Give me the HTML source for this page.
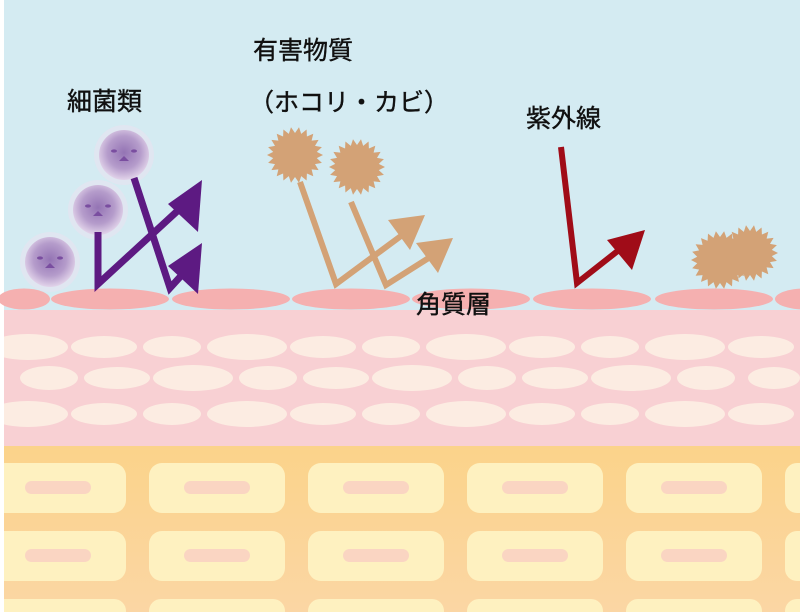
<!DOCTYPE html>
<html><head><meta charset="utf-8"><style>
html,body{margin:0;padding:0;background:#fff;width:800px;height:612px;overflow:hidden}
svg{display:block;overflow:hidden}
text{font-family:"Liberation Sans","Noto Sans CJK JP",sans-serif;fill:#111;stroke:#111;stroke-width:0.4}
</style></head><body>
<svg width="800" height="612" viewBox="0 0 800 612" xmlns="http://www.w3.org/2000/svg">
<defs>
<clipPath id="cp"><rect x="0" y="0" width="800" height="612"/></clipPath>
<radialGradient id="bac" cx="50%" cy="45%" r="55%">
<stop offset="0" stop-color="#9474b4"/><stop offset="0.6" stop-color="#b59ccb"/><stop offset="1" stop-color="#e2d4ea"/>
</radialGradient>
<linearGradient id="org" x1="0" y1="0" x2="0" y2="1">
<stop offset="0" stop-color="#fbd38a"/><stop offset="1" stop-color="#fbd6a4"/>
</linearGradient>
<g id="row13">
<ellipse cx="67" cy="0" rx="40" ry="13"/><ellipse cx="143" cy="0" rx="33" ry="11"/><ellipse cx="211" cy="0" rx="29" ry="11"/>
</g>
<g id="row2">
<ellipse cx="39" cy="0" rx="29" ry="12"/><ellipse cx="107" cy="0" rx="33" ry="11"/><ellipse cx="183" cy="0" rx="40" ry="13"/>
</g>
<g id="box"><rect x="0" y="0" width="136" height="50" rx="13" fill="#fef1c0"/><rect x="35" y="18" width="66" height="13" rx="6.5" fill="#fad5c2"/></g>
<g id="bot"><path d="M0,13 V12 A12,12 0 0 1 12,0 H124 A12,12 0 0 1 136,12 V13Z" fill="#fef1c0"/></g>
</defs>
<g clip-path="url(#cp)">
<rect x="4" y="0" width="796" height="612" fill="#d4ebf2"/>
<rect x="4" y="310" width="796" height="136" fill="#f8d0d3"/>
<g fill="#fcece2">
<use href="#row13" x="-39" y="347"/><use href="#row13" x="180" y="347"/><use href="#row13" x="399" y="347"/><use href="#row13" x="618" y="347"/>
<use href="#row2" x="10" y="378"/><use href="#row2" x="229" y="378"/><use href="#row2" x="448" y="378"/><ellipse cx="706" cy="378" rx="29" ry="12"/><ellipse cx="774" cy="378" rx="26" ry="11"/>
<use href="#row13" x="-39" y="414"/><use href="#row13" x="180" y="414"/><use href="#row13" x="399" y="414"/><use href="#row13" x="618" y="414"/>
</g>
<rect x="4" y="446" width="796" height="166" fill="url(#org)"/>
<g>
<use href="#box" x="-10" y="463"/><use href="#box" x="149" y="463"/><use href="#box" x="308" y="463"/><use href="#box" x="467" y="463"/><use href="#box" x="626" y="463"/>
<use href="#box" x="-10" y="531"/><use href="#box" x="149" y="531"/><use href="#box" x="308" y="531"/><use href="#box" x="467" y="531"/><use href="#box" x="626" y="531"/>
<use href="#bot" x="-10" y="599"/><use href="#bot" x="149" y="599"/><use href="#bot" x="308" y="599"/><use href="#bot" x="467" y="599"/><use href="#bot" x="626" y="599"/>
<g fill="#fef1c0">
<rect x="785" y="463" width="30" height="50" rx="12"/><rect x="785" y="531" width="30" height="50" rx="12"/><rect x="785" y="599" width="30" height="30" rx="12"/>
</g>
</g>
<rect x="0" y="310" width="4" height="302" fill="#fff"/>
<g fill="#f5b0b0">
<ellipse cx="24" cy="299" rx="26" ry="10.5"/><ellipse cx="110" cy="299" rx="59" ry="10.5"/><ellipse cx="231" cy="299" rx="59" ry="10.5"/><ellipse cx="351" cy="299" rx="59" ry="10.5"/><ellipse cx="471" cy="299" rx="59" ry="10.5"/><ellipse cx="592" cy="299" rx="59" ry="10.5"/><ellipse cx="714" cy="299" rx="59" ry="10.5"/><ellipse cx="805" cy="299" rx="30" ry="10.5"/>
</g>
<g>
<g transform="translate(50,262)"><circle r="30" fill="#ece2f0" opacity="0.5"/><circle r="25" fill="url(#bac)"/><ellipse cx="-10" cy="-4" rx="3" ry="1.6" fill="#7a4ea0"/><ellipse cx="10" cy="-4" rx="3" ry="1.6" fill="#7a4ea0"/><path d="M-5 6 L5 6 L0 1Z" fill="#7a4ea0"/></g>
<g transform="translate(98,210)"><circle r="30" fill="#ece2f0" opacity="0.5"/><circle r="25" fill="url(#bac)"/><ellipse cx="-10" cy="-4" rx="3" ry="1.6" fill="#7a4ea0"/><ellipse cx="10" cy="-4" rx="3" ry="1.6" fill="#7a4ea0"/><path d="M-5 6 L5 6 L0 1Z" fill="#7a4ea0"/></g>
<g transform="translate(124,155)"><circle r="30" fill="#ece2f0" opacity="0.5"/><circle r="25" fill="url(#bac)"/><ellipse cx="-10" cy="-4" rx="3" ry="1.6" fill="#7a4ea0"/><ellipse cx="10" cy="-4" rx="3" ry="1.6" fill="#7a4ea0"/><path d="M-5 6 L5 6 L0 1Z" fill="#7a4ea0"/></g>
</g>
<g stroke="#5d1a82" stroke-width="7" fill="none">
<polyline points="98,232 98,284 185,204"/>
<polyline points="134,178 170,288 190,266"/>
</g>
<g fill="#5d1a82">
<path d="M202,180 L198,232 L168,204Z"/>
<path d="M202,243 L198,294 L168,266Z"/>
</g>
<g fill="#d3a276" id="dusts"></g>
<g stroke="#d3a276" stroke-width="6" fill="none">
<polyline points="300,182 336,284 405,233"/>
<polyline points="351,202 386,285 435,254"/>
</g>
<g fill="#d3a276">
<path d="M425,215 L410,250 L388,220Z"/>
<path d="M453,238 L438,273 L416,243Z"/>
</g>
<g stroke="#a00c18" stroke-width="6" fill="none"><polyline points="561,147 577,283 624,246"/></g>
<path d="M645,230 L632,270 L607,240Z" fill="#a00c18"/>
<text x="67" y="110" font-size="25">細菌類</text>
<text x="253" y="59" font-size="25">有害物質</text>
<text x="249" y="111" font-size="25">（ホコリ・カビ）</text>
<text x="526" y="127" font-size="25">紫外線</text>
<text x="416" y="313" font-size="25">角質層</text>
</g>
<script>
(function(){
var ns="http://www.w3.org/2000/svg",g=document.getElementById("dusts");
function spiky(cx,cy,R,r,n){var p=[];for(var i=0;i<2*n;i++){var a=Math.PI*i/n,rr=i%2?r:R;p.push((cx+rr*Math.cos(a)).toFixed(1)+","+(cy+rr*Math.sin(a)).toFixed(1));}var e=document.createElementNS(ns,"polygon");e.setAttribute("points",p.join(" "));g.appendChild(e);}
spiky(295,155,28,22,22);spiky(357,167,28,22,22);spiky(720,260,29,23,22);spiky(750,253,28,22,22);
})();
</script>
</svg>
</body></html>
